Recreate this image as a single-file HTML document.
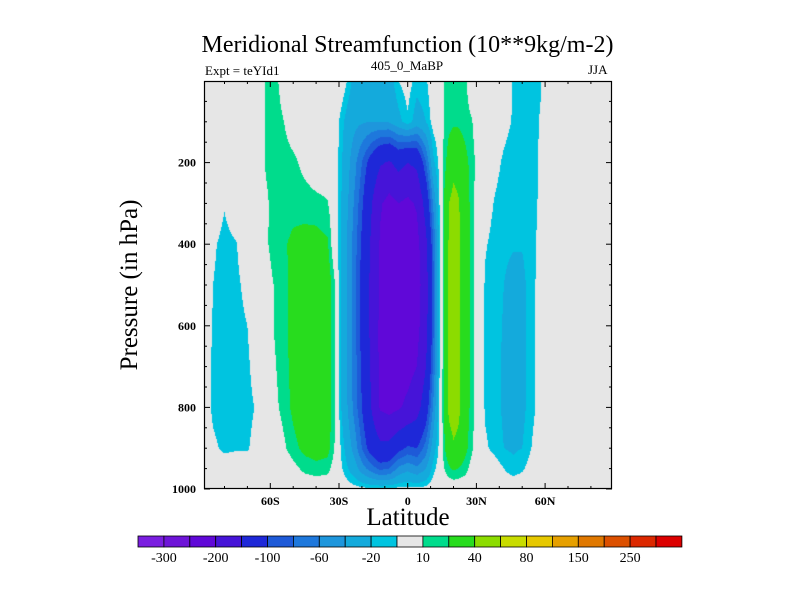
<!DOCTYPE html>
<html><head><meta charset="utf-8"><style>
body{margin:0;background:#fff;}
#root{position:relative;width:800px;height:600px;background:#fff;font-family:"Liberation Serif",serif;color:#000;overflow:hidden}
.t{position:absolute;white-space:nowrap}
</style></head><body>
<div id="root">
<div class="t" style="left:0;width:815px;text-align:center;top:32px;font-size:24px;">Meridional Streamfunction (10**9kg/m-2)</div>
<div class="t" style="left:205px;top:63px;font-size:13px;">Expt = teYId1</div>
<div class="t" style="left:307px;width:200px;text-align:center;top:58px;font-size:13px;">405_0_MaBP</div>
<div class="t" style="left:588px;top:62px;font-size:13px;">JJA</div>
<div class="t" style="left:130px;top:285px;font-size:25px;transform:translate(-50%,-50%) rotate(-90deg);">Pressure (in hPa)</div>
<div class="t" style="left:308px;width:200px;text-align:center;top:504px;font-size:25px;">Latitude</div>
<canvas id="field" width="408" height="408" style="position:absolute;left:204px;top:81px;"></canvas>
<svg id="axes" width="800" height="600" style="position:absolute;left:0;top:0;"></svg>
</div>
<script>
const lats=[-89,-85,-80,-75,-70,-65,-62,-58,-54,-50,-45,-40,-35,-32,-29,-26,-23,-20,-16,-12,-8,-4,0,4,8,11,14,16,18,20,22,25,28,31,34,38,42,46,50,54,58,62,70,89];
const pressures=[0,100,200,300,400,500,600,700,800,900,950,1000];
const row0=[0,0,0,0,0,0,11,13,5,0,0,0,0,0,0,-12,-28,-32,-33,-32,-28,-10,-4,-15,-12,0,0,10,14,15,15,13,0,0,0,0,0,-11,-14,-14,-11,0,0,0];
const row100=[0,0,0,0,0,0,11,14,10,2,0,0,0,0,-15,-28,-35,-38,-40,-40,-38,-25,-12,-28,-20,-5,0,11,16,18,18,15,11,0,0,-3,-6,-11,-15,-15,-9,0,0,0];
const row200=[0,0,0,0,0,0,11,14,15,13,6,0,0,0,-18,-35,-55,-80,-115,-145,-155,-135,-150,-140,-80,-25,-5,15,28,35,33,25,15,4,0,-6,-12,-16,-17,-15,-8,0,0,0];
const row300=[0,0,-9,0,0,2,8,14,16,17,16,14,11,0,-20,-40,-65,-95,-145,-195,-215,-200,-210,-195,-130,-60,-8,22,40,45,42,30,15,0,-4,-11,-15,-18,-19,-16,-7,0,0,0];
const row400=[0,-8,-14,-11,0,3,8,15,19,22,24,25,22,0,-22,-45,-72,-105,-155,-205,-228,-222,-228,-215,-160,-85,-8,22,42,48,45,30,15,0,-9,-14,-18,-19,-19,-14,-6,0,0,0];
const row500=[0,-10,-15,-13,-6,0,4,11,17,24,30,32,30,12,-22,-45,-75,-110,-160,-205,-230,-235,-232,-220,-170,-90,-8,22,44,48,45,30,15,0,-12,-16,-20,-24,-24,-14,-5,0,0,0];
const row600=[-2,-11,-15,-14,-10,0,4,11,17,24,30,32,30,12,-22,-45,-75,-110,-160,-210,-232,-235,-230,-215,-165,-90,-8,22,44,48,45,30,15,0,-12,-16,-21,-24,-24,-14,-5,0,0,0];
const row700=[-3,-12,-15,-14,-12,-3,2,9,16,24,30,32,30,12,-21,-44,-72,-105,-155,-210,-228,-225,-215,-200,-150,-80,-8,22,44,48,45,30,15,0,-12,-16,-22,-25,-24,-14,-5,0,0,0];
const row800=[-4,-12,-15,-14,-13,-8,2,7,14,23,30,32,30,12,-20,-42,-70,-100,-150,-205,-215,-205,-190,-170,-120,-60,-6,22,44,48,45,30,15,0,-12,-16,-22,-25,-24,-14,-5,0,0,0];
const row900=[0,-8,-12,-11,-11,-5,0,0,8,16,24,27,25,10,-12,-30,-50,-80,-115,-138,-135,-110,-95,-100,-70,-30,-5,18,32,38,35,25,12,0,-8,-14,-20,-22,-20,-10,0,0,0,0];
const row950=[0,-3,-4,-4,-4,-2,0,0,0,6,13,16,14,4,-8,-20,-32,-50,-70,-85,-80,-55,-45,-55,-40,-15,-2,10,18,22,20,15,5,0,0,-3,-10,-16,-12,-4,0,0,0,0];
const row1000=[0,0,0,0,0,0,0,0,0,0,0,0,0,0,0,-3,-5,-6,-7,-7,-7,-6,-6,-6,-5,-2,0,0,0,0,0,0,0,0,0,0,0,0,0,0,0,0,0,0];
const levels=[-300,-250,-200,-150,-100,-80,-60,-40,-20,-10,10,20,40,60,80,100,150,200,250,300];
const levelLabels=["-300","-200","-100","-60","-20","10","40","80","150","250"];
const colors=["#7a1ee0","#6e14d8","#6008d8","#4614d8","#1e28d8","#1e5ad8","#1e78dc","#1e96dc","#14aadc","#00c4e0","#e6e6e6","#00dc8c","#28dc1e","#8cdc00","#c8dc00","#e6c800","#e6a000","#e07800","#dc5000","#dc2800","#dc0000"];
const xTicks=[-60,-30,0,30,60];
const xTickLabels=["60S","30S","0","30N","60N"];
const yTicks=[200,400,600,800,1000];
const grid=[row0,row100,row200,row300,row400,row500,row600,row700,row800,row900,row950,row1000];

const PX0=204,PY0=81,PW=408,PH=408;
const xOf=lat=>407.7+lat*2.29;
const yOf=p=>PY0+p*0.408;
function findIdx(arr,v){for(let i=0;i<arr.length-1;i++){if(v<=arr[i+1])return i;}return arr.length-2;}
function valueAt(lat,p){
  lat=Math.max(lats[0],Math.min(lats[lats.length-1],lat));
  p=Math.max(0,Math.min(1000,p));
  const i=findIdx(lats,lat),j=findIdx(pressures,p);
  const tx=(lat-lats[i])/(lats[i+1]-lats[i]),ty=(p-pressures[j])/(pressures[j+1]-pressures[j]);
  const a=grid[j][i],b=grid[j][i+1],c=grid[j+1][i],d=grid[j+1][i+1];
  return (a*(1-tx)+b*tx)*(1-ty)+(c*(1-tx)+d*tx)*ty;
}
function band(v){let k=0;while(k<levels.length&&v>=levels[k])k++;return k;}
const rgb=colors.map(h=>[parseInt(h.slice(1,3),16),parseInt(h.slice(3,5),16),parseInt(h.slice(5,7),16)]);
const cv=document.getElementById('field');const ctx=cv.getContext('2d');
const img=ctx.createImageData(PW,PH);
for(let py=0;py<PH;py++){for(let px=0;px<PW;px++){
  const lat=(PX0+px+0.5-407.7)/2.29;const p=(py+0.5)/0.408;
  const c=rgb[band(valueAt(lat,p))];const o=(py*PW+px)*4;
  img.data[o]=c[0];img.data[o+1]=c[1];img.data[o+2]=c[2];img.data[o+3]=255;}}
ctx.putImageData(img,0,0);

const svg=document.getElementById('axes');const NS="http://www.w3.org/2000/svg";
function mk(tag,attrs){const e=document.createElementNS(NS,tag);for(const k in attrs)e.setAttribute(k,attrs[k]);svg.appendChild(e);return e;}
const frame=mk('rect',{x:PX0+0.5,y:PY0+0.5,width:PW-1,height:PH-1,fill:'none',stroke:'#000','stroke-width':1.2});


for(let lat=-80;lat<=80;lat+=10){
  const x=xOf(lat);const major=lat%30===0;const L=major?6:3;
  const t1=mk('line',{x1:x,y1:PY0+PH,x2:x,y2:PY0+PH-L,stroke:'#000'});
  
  
  const t2=mk('line',{x1:x,y1:PY0,x2:x,y2:PY0+L,stroke:'#000'});
  
  
}
xTicks.forEach((lat,i)=>{
  const t=mk('text',{x:xOf(lat),y:505,'text-anchor':'middle','font-size':12,'font-weight':'bold','font-family':'Liberation Serif, serif'});
  t.textContent=xTickLabels[i];
  
  
});
for(let p=50;p<=1000;p+=50){
  const y=yOf(p);const major=p%200===0;const L=major?6:3;
  const a=mk('line',{x1:PX0,y1:y,x2:PX0+L,y2:y,stroke:'#000'});
  
  
  const b=mk('line',{x1:PX0+PW,y1:y,x2:PX0+PW-L,y2:y,stroke:'#000'});
  
  
}
yTicks.forEach(p=>{
  const t=mk('text',{x:196,y:yOf(p)+4,'text-anchor':'end','font-size':12,'font-weight':'bold','font-family':'Liberation Serif, serif'});
  t.textContent=String(p);
  
  
});
const CB0=138,CBW=25.9,CBY=536,CBH=11;
colors.forEach((c,i)=>{
  const r=mk('rect',{x:CB0+i*CBW,y:CBY,width:CBW,height:CBH,fill:c,stroke:'#000','stroke-width':0.8});
  
  
});
levelLabels.forEach((s,i)=>{
  const t=mk('text',{x:CB0+(1+2*i)*CBW,y:562,'text-anchor':'middle','font-size':14,'font-family':'Liberation Serif, serif'});
  t.textContent=s;
  
  
});
</script>
</body></html>
